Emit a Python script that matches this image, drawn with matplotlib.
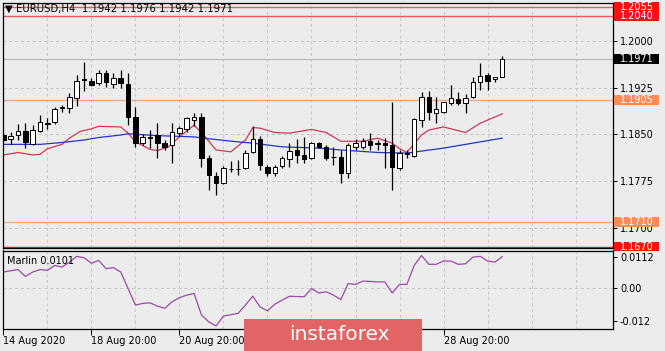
import matplotlib.pyplot as plt
from matplotlib.patches import Rectangle
import numpy as np

# EURUSD H4 candles (bar index 0 = 14 Aug 20:00)
opens = [1.1849, 1.1843, 1.1849, 1.1856, 1.1835, 1.1856, 1.1867, 1.1870, 1.1892, 1.1892,
         1.1908, 1.1937, 1.1936, 1.1933, 1.1949, 1.1931, 1.1941, 1.1931, 1.1878, 1.1836,
         1.1846, 1.1849, 1.1836, 1.1833, 1.1852, 1.1859, 1.1873, 1.1878, 1.1812, 1.1783,
         1.1772, 1.1795, 1.1794, 1.1796, 1.1822, 1.1843, 1.1798, 1.1788, 1.1799, 1.1810,
         1.1825, 1.1817, 1.1812, 1.1836, 1.1830, 1.1814, 1.1814, 1.1788, 1.1830, 1.1830,
         1.1839, 1.1836, 1.1836, 1.1833, 1.1796, 1.1820, 1.1815, 1.1873, 1.1910, 1.1884,
         1.1886, 1.1900, 1.1907, 1.1900, 1.1910, 1.1934, 1.1945, 1.1939, 1.1942]
highs = [1.1852, 1.1854, 1.1867, 1.1868, 1.1865, 1.1881, 1.1876, 1.1894, 1.1897, 1.1917,
         1.1945, 1.1966, 1.1941, 1.1953, 1.1953, 1.1949, 1.1953, 1.1949, 1.1894, 1.1851,
         1.1857, 1.1868, 1.1841, 1.1868, 1.1864, 1.1878, 1.1884, 1.1884, 1.1817, 1.1790,
         1.1799, 1.1807, 1.1809, 1.1825, 1.1864, 1.1847, 1.1801, 1.1801, 1.1815, 1.1836,
         1.1843, 1.1846, 1.1838, 1.1838, 1.1833, 1.1830, 1.1825, 1.1836, 1.1843, 1.1844,
         1.1852, 1.1841, 1.1844, 1.1902, 1.1825, 1.1825, 1.1876, 1.1918, 1.1920, 1.1910,
         1.1902, 1.1929, 1.1918, 1.1915, 1.1942, 1.1965, 1.1949, 1.1942, 1.1976]
lows = [1.1836, 1.1835, 1.1841, 1.1828, 1.1833, 1.1854, 1.1859, 1.1867, 1.1886, 1.1884,
        1.1896, 1.1920, 1.1928, 1.1929, 1.1926, 1.1925, 1.1925, 1.1865, 1.1830, 1.1833,
        1.1828, 1.1812, 1.1825, 1.1804, 1.1847, 1.1854, 1.1864, 1.1798, 1.1761, 1.1753,
        1.1770, 1.1790, 1.1785, 1.1794, 1.1820, 1.1793, 1.1783, 1.1783, 1.1796, 1.1798,
        1.1804, 1.1804, 1.1810, 1.1828, 1.1809, 1.1801, 1.1772, 1.1780, 1.1825, 1.1827,
        1.1825, 1.1825, 1.1796, 1.1761, 1.1793, 1.1812, 1.1814, 1.1862, 1.1873, 1.1868,
        1.1884, 1.1897, 1.1897, 1.1884, 1.1908, 1.1921, 1.1921, 1.1934, 1.1942]
closes = [1.1841, 1.1847, 1.1856, 1.1838, 1.1857, 1.1870, 1.1868, 1.1891, 1.1894, 1.1910,
          1.1936, 1.1939, 1.1929, 1.1949, 1.1934, 1.1941, 1.1933, 1.1878, 1.1836, 1.1846,
          1.1845, 1.1836, 1.1830, 1.1854, 1.1860, 1.1876, 1.1878, 1.1812, 1.1785, 1.1772,
          1.1796, 1.1794, 1.1795, 1.1820, 1.1843, 1.1801, 1.1788, 1.1798, 1.1812, 1.1823,
          1.1817, 1.1810, 1.1836, 1.1830, 1.1812, 1.1813, 1.1788, 1.1833, 1.1836, 1.1839,
          1.1833, 1.1835, 1.1833, 1.1798, 1.1820, 1.1818, 1.1875, 1.1910, 1.1886, 1.1891,
          1.1902, 1.1908, 1.1900, 1.1908, 1.1934, 1.1944, 1.1936, 1.1942, 1.1971]

# moving averages
ma_red_idx = [0, 2, 4, 5, 6, 8, 9, 10.5, 12, 13, 16, 17, 18, 20, 21, 22.5, 24, 26, 27.5, 29,
              31, 33, 34, 35, 37, 39, 42, 44, 46, 49, 51, 53, 54, 55, 56, 57, 58, 60, 63, 65, 68]
ma_red = [1.1817, 1.1821, 1.1817, 1.1818, 1.1827, 1.1834, 1.1844, 1.1855, 1.1859, 1.1863,
          1.1862, 1.1852, 1.1838, 1.1826, 1.1824, 1.1830, 1.1846, 1.1865, 1.1846, 1.1825,
          1.1822, 1.1841, 1.1861, 1.1860, 1.1853, 1.1852, 1.1858, 1.1853, 1.1839, 1.1839,
          1.1844, 1.1836, 1.1827, 1.1821, 1.1835, 1.1849, 1.1857, 1.1862, 1.1853, 1.1868, 1.1883]
ma_blue_idx = [0, 5, 8, 11, 13, 16, 17, 21, 26, 28, 32, 34, 38, 43, 46, 51, 55, 60, 64, 68]
ma_blue = [1.1834, 1.1834, 1.1837, 1.1841, 1.1845, 1.1849, 1.1851, 1.1848, 1.1846, 1.1843,
           1.1838, 1.1836, 1.1830, 1.1828, 1.1825, 1.1821, 1.1820, 1.1828, 1.1836, 1.1844]

# Marlin oscillator
marlin_idx = [0, 2, 3, 4, 5, 6, 7, 8, 9, 10, 11, 12, 13, 14, 15, 16, 17, 18, 19, 20,
              21, 22, 23, 24, 25, 26, 27, 28, 29, 30, 31, 32, 33, 34, 35, 36, 37, 38, 39, 40,
              41, 42, 43, 44, 45, 46, 47, 48, 49, 50, 51, 52, 53, 54, 55, 56, 57, 58, 59, 60,
              61, 62, 63, 64, 65, 66, 67, 68]
marlin = [0.0059, 0.0068, 0.0043, 0.0059, 0.0068, 0.0065, 0.0083, 0.0077, 0.0095, 0.0116,
          0.0111, 0.0091, 0.0101, 0.0071, 0.0075, 0.0059, -0.0001, -0.0061, -0.0055, -0.0053,
          -0.0065, -0.0073, -0.0049, -0.0034, -0.0025, -0.0019, -0.0097, -0.0122, -0.0137, -0.0101,
          -0.0096, -0.0091, -0.0061, -0.0029, -0.0068, -0.0082, -0.0058, -0.0043, -0.0029, -0.0030,
          -0.0031, -0.0001, -0.0017, -0.0013, -0.0025, -0.0041, 0.0017, 0.0014, 0.0026, 0.0025,
          0.0023, 0.0023, -0.0017, 0.0014, 0.0014, 0.0083, 0.0119, 0.0087, 0.0087, 0.0099,
          0.0099, 0.0087, 0.0089, 0.0113, 0.0116, 0.0099, 0.0095, 0.0115]

# labels at bars 36 and 48 sit under the watermark, so they stay blank
tick_idx = [0, 12, 24, 36, 48, 60]
tick_labels = ['14 Aug 2020', '18 Aug 20:00', '20 Aug 20:00', '', '', '28 Aug 20:00']
price_ticks = [1.2000, 1.1925, 1.1850, 1.1775, 1.1700]
marlin_ticks = [0.0112, 0.0, -0.012]
marlin_tick_labels = ['0.0112', '0.00', '-0.012']

levels = [1.2055, 1.2040, 1.1905, 1.1710, 1.1670]
level_line_colors = ['#e06060', '#e06060', '#f3a585', '#f3a585', '#e02020']
level_box_colors = ['#ff1010', '#ff1010', '#ff8a5c', '#ff8a5c', '#ff1010']
last_price = 1.1971

bg = '#ececec'
W, H = 665, 351
fig = plt.figure(figsize=(W / 100, H / 100), dpi=100, facecolor=bg)
ax = fig.add_axes([3 / W, 103 / H, 610 / W, 245 / H], facecolor=bg)
ax2 = fig.add_axes([3 / W, 22 / H, 610 / W, 78.5 / H], facecolor=bg)

n = len(opens)
idx = np.arange(n)
o = np.array(opens); c = np.array(closes)
hi = np.array(highs); lo = np.array(lows)

for a in (ax, ax2):
    a.set_xlim(-0.05, 83.1)
    for s in a.spines.values():
        s.set_color('black')
        s.set_linewidth(0.9)
    a.yaxis.tick_right()
    a.tick_params(axis='y', direction='out', length=3, width=0.7, labelsize=7, pad=2)
    for x in range(0, 84, 6):
        a.axvline(x, color='#c4c4c4', lw=0.7, ls=(0, (3, 3)), zorder=0)

ax.set_ylim(1.16676, 1.20610)
ax.set_yticks(price_ticks, ['%.4f' % p for p in price_ticks])
ax.tick_params(axis='x', bottom=False, labelbottom=False)
for p in price_ticks:
    ax.axhline(p, color='#c4c4c4', lw=0.7, ls=(0, (3, 3)), zorder=0)

# levels and current price line
ax.axhline(last_price, color='#b4b4b4', lw=0.8, zorder=1)
for lv, lc in zip(levels, level_line_colors):
    ax.axhline(lv, color=lc, lw=1.0, zorder=1)

# moving averages
ax.plot(ma_red_idx, ma_red, color='#d03858', lw=0.9, zorder=2)
ax.plot(ma_blue_idx, ma_blue, color='#2434c8', lw=0.9, zorder=2)

# candles
ax.vlines(idx, lo, hi, color='black', lw=0.9, zorder=3)
up = c >= o
body_h = np.maximum(np.abs(c - o), 0.00003)
ax.bar(idx, body_h, bottom=np.minimum(o, c), width=0.62,
       color=np.where(up, 'white', 'black'), edgecolor='black', linewidth=0.7, zorder=4)

# price boxes on the right scale
yt = ax.get_yaxis_transform()
box_h = 0.0016
for lv, bc in zip(levels + [last_price], level_box_colors + ['black']):
    ax.add_patch(Rectangle((1.002, lv - box_h / 2), 0.074, box_h, transform=yt,
                           facecolor=bc, edgecolor='none', clip_on=False, zorder=5))
    ax.text(1.011, lv, '%.4f' % lv, transform=yt, color='white', fontsize=7,
            ha='left', va='center', clip_on=False, zorder=6)

ax.text(0.003, 0.978, '\u25BC EURUSD,H4  1.1942 1.1976 1.1942 1.1971', transform=ax.transAxes,
        fontsize=7.3, ha='left', va='center', zorder=7)

# Marlin panel
ax2.set_ylim(-0.0148, 0.01372)
ax2.set_yticks(marlin_ticks, marlin_tick_labels)
ax2.axhline(0, color='#c4c4c4', lw=0.7, ls=(0, (3, 3)), zorder=0)
ax2.plot(marlin_idx, marlin, color='#9c4aa6', lw=0.9)
ax2.text(0.006, 0.93, 'Marlin 0.0101', transform=ax2.transAxes, fontsize=7, ha='left', va='top')
ax2.set_xticks(tick_idx, tick_labels)
ax2.tick_params(axis='x', direction='out', length=4, width=0.7, labelsize=7, pad=1)
for lab in ax2.get_xticklabels():
    lab.set_horizontalalignment('left')

# watermark
fig.patches.append(Rectangle((244 / W, 0), 178 / W, 32 / H, transform=fig.transFigure,
                             facecolor='#e26464', edgecolor='none', zorder=10))
fig.text(289 / W, 16 / H, 'instaforex', color='white', fontsize=14.5, ha='left', va='center',
         zorder=11)

plt.savefig('out.png', dpi=100, facecolor=bg)
